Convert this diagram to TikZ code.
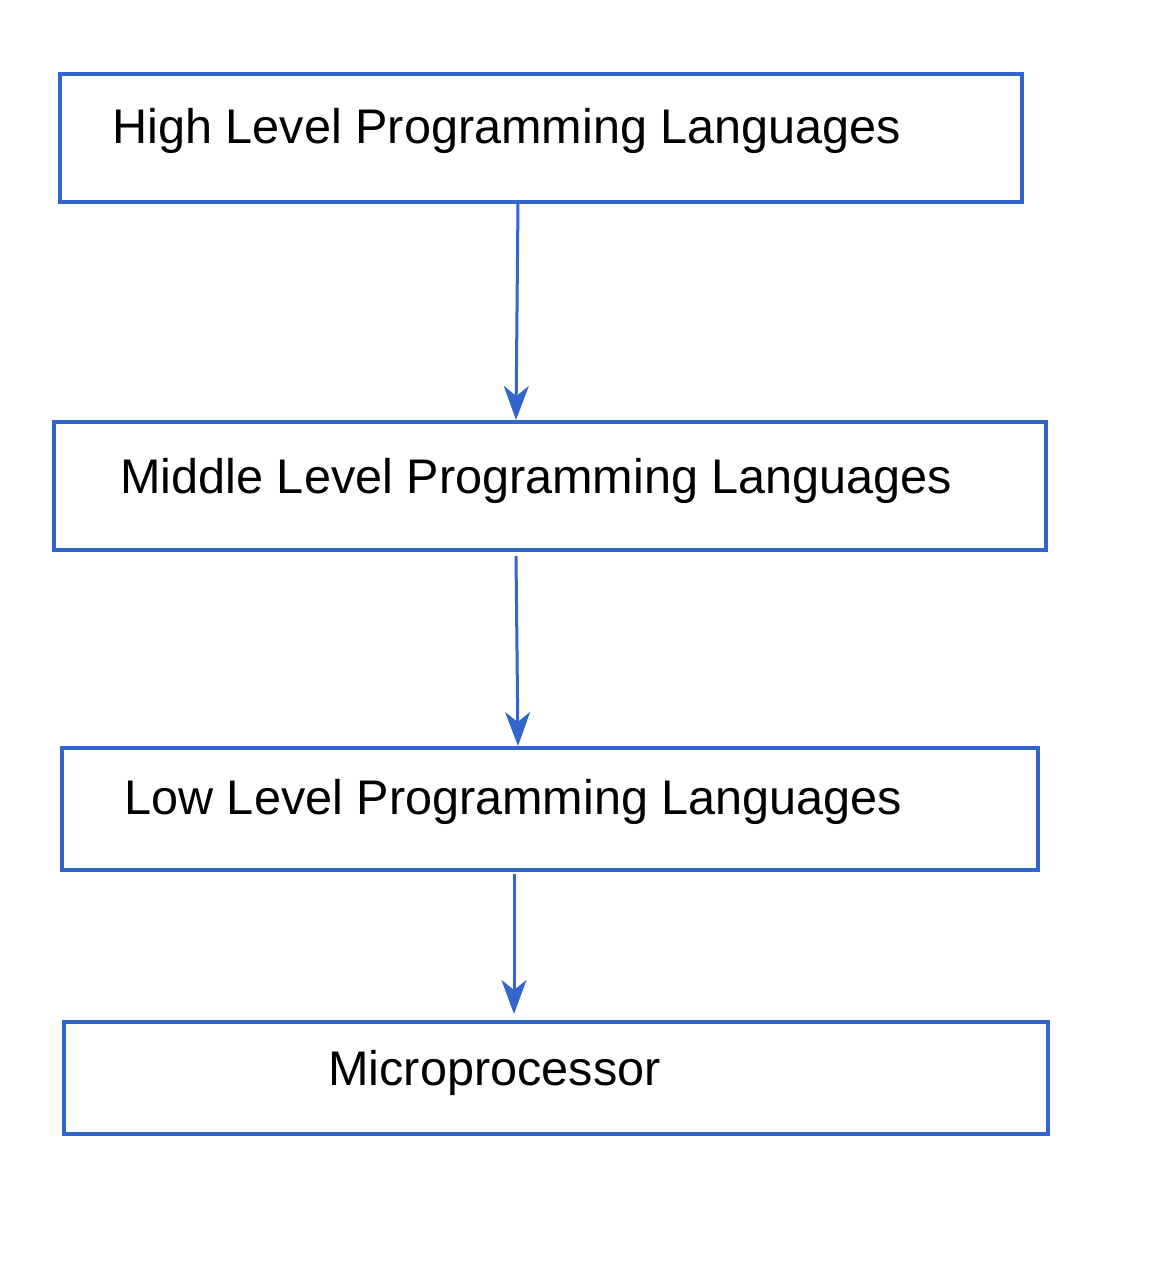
\documentclass[tikz,border=0pt]{standalone}
\usepackage{fontspec}
\setmainfont{Liberation Sans}
\usepackage{tikz}
\usetikzlibrary{arrows.meta,positioning}
\definecolor{azulCaja}{RGB}{51, 102, 204}
\tikzstyle{caja}  =[rectangle, draw=azulCaja, line width=1.7pt,
                    inner sep=0pt, outer sep=0pt]
\tikzstyle{texto} =[anchor=base west, inner sep=0pt,
                    font=\fontsize{24.3}{29}\selectfont]
\tikzstyle{flecha}=[azulCaja, line width=1.5pt,
                    -{Stealth[length=17pt, width=12.5pt, inset=5pt]}]

\begin{document}
\begin{tikzpicture}[x=0.5pt,y=-0.5pt]

        \useasboundingbox (0,0) rectangle (1166,1266);

        % cajas
        \node (high)[caja, minimum width=481pt, minimum height=64pt] at (541,138) {};
        \node (middle)[caja, minimum width=496pt, minimum height=64pt] at (550,486) {};
        \node (low)[caja, minimum width=488pt, minimum height=61pt] at (550,809) {};
        \node (micro)[caja, minimum width=492pt, minimum height=56pt] at (556,1078) {};

        % textos
        \node (highText)[texto] at (112,143) {High Level Programming Languages};
        \node (middleText)[texto] at (120,493) {Middle Level Programming Languages};
        \node (lowText)[texto] at (124,814) {Low Level Programming Languages};
        \node (microText)[texto] at (328,1085) {Microprocessor};

        % flechas
        \draw [flecha] ([xshift=-11.5pt]high.south) to ([xshift=-17pt,yshift=1pt]middle.north);
        \draw [flecha] ([xshift=-17pt,yshift=-3pt]middle.south) to ([xshift=-16pt,yshift=1pt]low.north);
        \draw [flecha] ([xshift=-18pt,yshift=-2pt]low.south) to ([xshift=-21pt,yshift=4pt]micro.north);

    \end{tikzpicture}
\end{document}
